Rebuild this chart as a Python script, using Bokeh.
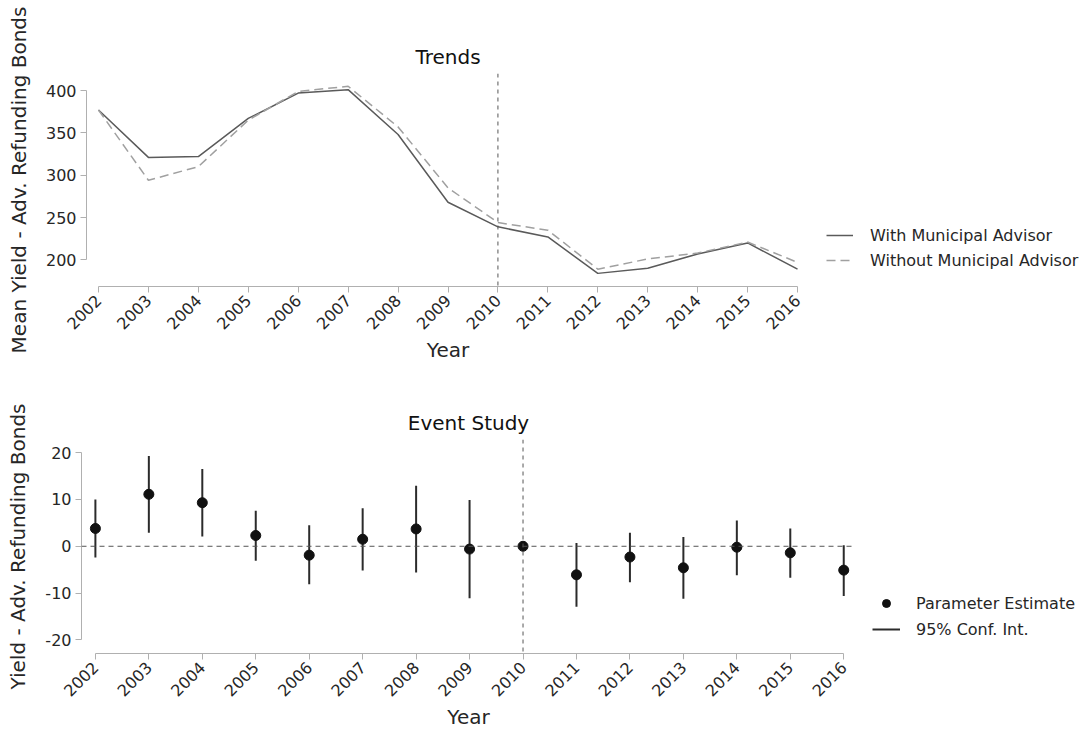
import math
from bokeh.plotting import figure
from bokeh.models import (ColumnDataSource, Range1d, FixedTicker, Span, Legend, LegendItem,
                          PrintfTickFormatter)
from bokeh.embed import file_html
from bokeh.resources import INLINE

# ---- data ----
years = [2002, 2003, 2004, 2005, 2006, 2007, 2008, 2009, 2010, 2011, 2012, 2013, 2014, 2015, 2016]
with_ma = [377, 321, 322, 367, 397, 401, 348, 268, 239, 227, 184, 190, 207, 220, 189]
without_ma = [377, 294, 310, 365, 399, 405, 357, 285, 244, 235, 189, 201, 208, 221, 197]

estimate = [3.8, 11.1, 9.3, 2.3, -1.9, 1.5, 3.7, -0.6, 0.0, -6.1, -2.3, -4.6, -0.2, -1.4, -5.1]
ci_low = [-2.4, 2.9, 2.1, -3.1, -8.1, -5.2, -5.6, -11.1, None, -12.9, -7.7, -11.2, -6.2, -6.7, -10.6]
ci_high = [10.0, 19.3, 16.5, 7.6, 4.5, 8.1, 12.9, 9.9, None, 0.7, 2.9, 2.0, 5.5, 3.8, 0.2]

trend_ticks = [200, 250, 300, 350, 400]
event_ticks = [-20, -10, 0, 10, 20]
event_year = 2010

FONT = "DejaVu Sans"
AXIS_COLOR = "#b0b0b0"
TEXT_COLOR = "#262626"


def style(p, yticks):
    p.outline_line_color = None
    p.xgrid.visible = False
    p.ygrid.visible = False
    p.title.text_font = FONT
    p.title.text_font_size = "20px"
    p.title.text_font_style = "normal"
    p.title.text_color = "#111111"
    p.title.align = "center"
    for ax in (p.xaxis[0], p.yaxis[0]):
        ax.axis_line_color = AXIS_COLOR
        ax.major_tick_line_color = AXIS_COLOR
        ax.minor_tick_line_color = None
        ax.major_tick_in = 0
        ax.major_tick_out = 6
        ax.major_label_text_font = FONT
        ax.major_label_text_font_size = "16px"
        ax.major_label_text_color = TEXT_COLOR
        ax.axis_label_text_font = FONT
        ax.axis_label_text_font_size = "20px"
        ax.axis_label_text_font_style = "normal"
        ax.axis_label_text_color = TEXT_COLOR
    p.xaxis[0].ticker = FixedTicker(ticks=years)
    p.xaxis[0].bounds = (years[0], years[-1])
    p.xaxis[0].major_label_orientation = math.pi / 4
    p.xaxis[0].axis_label = "Year"
    p.xaxis[0].axis_label_standoff = 0
    p.yaxis[0].ticker = FixedTicker(ticks=yticks)
    p.yaxis[0].formatter = PrintfTickFormatter(format="%d")
    p.yaxis[0].bounds = (yticks[0], yticks[-1])
    p.yaxis[0].major_label_standoff = 4
    p.yaxis[0].axis_label_standoff = 12


def style_legend(leg, gw, standoff):
    leg.border_line_color = None
    leg.background_fill_alpha = 0
    leg.label_text_font = FONT
    leg.label_text_font_size = "16px"
    leg.label_text_color = TEXT_COLOR
    leg.glyph_width = gw
    leg.glyph_height = 20
    leg.label_height = 20
    leg.spacing = 5
    leg.padding = 0
    leg.margin = 0
    leg.label_standoff = standoff


# ---- top: trends ----
p1 = figure(frame_width=723, frame_height=213, output_backend="svg", toolbar_location=None,
            title="Trends",
            x_range=Range1d(2001.76, 2016.24), y_range=Range1d(168.5, 420.1),
            min_border_left=86, min_border_right=258, min_border_top=73, min_border_bottom=84)
style(p1, trend_ticks)
p1.yaxis[0].axis_label = "Mean Yield - Adv. Refunding Bonds"

src1 = ColumnDataSource(dict(year=years, with_ma=with_ma, without_ma=without_ma))
r_with = p1.line("year", "with_ma", source=src1, line_color="#5a5a5a", line_width=1.5)
r_without = p1.line("year", "without_ma", source=src1, line_color="#a0a0a0", line_width=1.5,
                    line_dash="9 5")
p1.add_layout(Span(location=event_year, dimension="height", line_color="#555555",
                   line_width=1, line_dash="4 4"))

leg1 = Legend(items=[LegendItem(label="With Municipal Advisor", renderers=[r_with]),
                     LegendItem(label="Without Municipal Advisor", renderers=[r_without])],
              location=(17, 16), orientation="vertical")
style_legend(leg1, 27, 17)
p1.add_layout(leg1, "right")

# ---- bottom: event study ----
p2 = figure(frame_width=774, frame_height=214, output_backend="svg", toolbar_location=None,
            title="Event Study",
            x_range=Range1d(2001.74, 2016.22), y_range=Range1d(-22.9, 22.8),
            min_border_left=81, min_border_right=212, min_border_top=69, min_border_bottom=71)
style(p2, event_ticks)
p2.yaxis[0].axis_label = "Yield - Adv. Refunding Bonds"

p2.add_layout(Span(location=0, dimension="width", line_color="#555555",
                   line_width=1, line_dash="5 4"))
p2.add_layout(Span(location=event_year, dimension="height", line_color="#555555",
                   line_width=1, line_dash="4 4"))

ci_years = [y for y, lo in zip(years, ci_low) if lo is not None]
ci_lo = [lo for lo in ci_low if lo is not None]
ci_hi = [hi for hi in ci_high if hi is not None]
src_ci = ColumnDataSource(dict(year=ci_years, lo=ci_lo, hi=ci_hi))
r_ci = p2.segment(x0="year", y0="lo", x1="year", y1="hi", source=src_ci,
                  line_color="#2b2b2b", line_width=2)
src_pt = ColumnDataSource(dict(year=years, est=estimate))
r_pt = p2.scatter("year", "est", source=src_pt, size=10, fill_color="#111111",
                  line_color="#111111")

leg2 = Legend(items=[LegendItem(label="Parameter Estimate", renderers=[r_pt]),
                     LegendItem(label="95% Conf. Int.", renderers=[r_ci])],
              location=(17, 14), orientation="vertical")
style_legend(leg2, 28, 16)
leg2.spacing = 6
p2.add_layout(leg2, "right")

open("out.html", "w").write(file_html([p1, p2], INLINE))
